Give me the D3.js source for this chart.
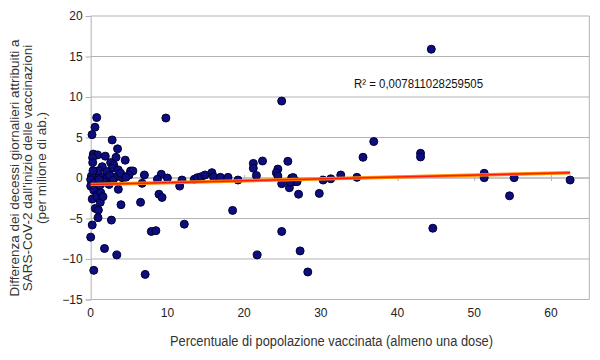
<!DOCTYPE html>
<html>
<head>
<meta charset="utf-8">
<script src="https://cdn.jsdelivr.net/npm/d3@7"></script>
<style>
  html, body { margin: 0; padding: 0; background: #fff; }
  svg { display: block; }
  text { font-family: "Liberation Sans", Arial, sans-serif; }
</style>
</head>
<body>
<svg id="chart" width="600" height="360"></svg>
<script>
// ---- Data ----
const vaccinatedPct = [
  0.78, 0.56, 0.17, 2.8, 3.5, 9.8, 0.34, 0.9, 1.9, 3.3, 4.5, 0.25, 0.26, 2.6, 3.0, 2.8, 1.5, 3.6,
  5.2, 5.5, 5.0, 2.1, 0.8, 0.1, 1.5, 2.1, 3.2, 4.1, 7.0, 6.7, 0, 0, 0.4, 0.8, 3.6, 0.2, 0.8, 1.25,
  0.6, 1.0, 0.95, 3.95, 6.5, 2.7, 0.2, 0, 1.8, 3.4, 0.4, 7.1, 7.9, 8.5, 12.2,
  0.5, 1.2, 1.8, 2.4, 1.0, 2.5, 1.3, 1.6, 0.3, 1.1, 3.9, 2.9, 4.6,
  9.2, 8.7, 10.0, 8.9, 9.3, 11.6, 11.9, 13.5, 13.9, 14.4, 14.9, 15.8, 16.0, 16.9, 17.9, 19.2, 18.5,
  21.2, 21.2, 22.4, 21.6, 24.4, 24.2, 24.4, 25.7, 24.9, 25.9, 26.2, 26.5, 26.9, 27.1, 29.8, 30.3,
  31.3, 32.6, 34.7, 35.5, 36.9, 43.0, 43.0, 44.4, 24.9, 44.6, 51.3, 51.3, 55.2, 54.6, 62.5, 24.9,
  21.7, 27.3, 28.3, 26.0, 26.4
];
const deathsDiff = [
  7.46, 6.27, 5.35, 4.7, 3.6, 7.4, 2.95, 2.85, 2.7, 2.55, 2.2, 2.5, 1.9, 1.9, 1.6, 1.2, 1.4, 1.0,
  0.87, 0.87, 0.37, 0.8, 0.37, 0.25, 0.08, -0.04, 0.08, 0.04, 0.37, -0.66, -0.2, -1.0, -1.5, -2.1, -1.4, -2.6, -2.3, -3.0,
  -3.75, -3.96, -4.9, -3.3, -3.0, -5.2, -5.8, -7.3, -8.7, -9.5, -11.4, -11.9, -6.6, -6.5, -5.7,
  -0.6, -0.9, -0.5, -0.8, 0.9, 0.3, -1.8, -2.3, 0.9, -0.2, 0.6, -0.3, 0.1,
  0.46, -0.16, 0, -2.0, -2.4, -1.0, -0.25, -0.16, 0.04, 0.16, 0.37, 0.66, 0.16, 0.08, 0.08, -0.25, -4.0,
  1.8, 1.2, 2.1, 0.3, 1.1, 0.65, 0.25, 2.06, -0.7, -1.2, 0, -0.45, -0.45, -2.0, -1.9, -0.25,
  -0.1, 0.37, 0.08, 2.56, 4.5, 3.05, 2.6, 15.9, 9.5, -6.2, 0.58, 0.04, 0.04, -2.2, -0.25, -6.6,
  -9.5, -9.0, -11.6, -0.5, 0.05
];
const trendX = [0, 62.5];
const trendY = [-0.8, 0.65];
const xTicks = [0, 10, 20, 30, 40, 50, 60];
const yTicks = [-15, -10, -5, 0, 5, 10, 15, 20];
const r2Label = "R² = 0,007811028259505";
const xTitle = "Percentuale di popolazione vaccinata (almeno una dose)";
const yTitleLines = [
  "Differenza dei decessi giornalieri attribuiti a",
  "SARS-CoV-2 dall'inizio delle vaccinazioni",
  "(per milione di ab.)"
];

// ---- Layout ----
const svg = d3.select("#chart");
const x = d3.scaleLinear().domain([0, 65]).range([90.7, 589.3]);
const y = d3.scaleLinear().domain([-15, 20]).range([299.5, 16]);
const gridColor = "#b3b3b3";

// horizontal gridlines
svg.append("g").selectAll("line").data(yTicks).join("line")
  .attr("x1", x(0)).attr("x2", x(65))
  .attr("y1", d => y(d)).attr("y2", d => y(d))
  .attr("stroke", gridColor).attr("stroke-width", 1);

// right border of plot area
svg.append("line")
  .attr("x1", x(65)).attr("x2", x(65)).attr("y1", y(20)).attr("y2", y(-15))
  .attr("stroke", gridColor).attr("stroke-width", 1);

// y axis (at x=0) with outward ticks
const yAxis = d3.axisLeft(y).tickValues(yTicks).tickSize(5).tickPadding(3)
  .tickFormat(d3.format("d"));
const gy = svg.append("g").attr("transform", `translate(${x(0)},0)`).call(yAxis);
gy.select(".domain").attr("stroke", gridColor);
gy.selectAll(".tick line").attr("stroke", gridColor);
gy.selectAll(".tick text").attr("font-size", 12).attr("fill", "#222")
  .attr("font-family", "Liberation Sans, Arial, sans-serif");

// x axis line at y=0 with crossing ticks
const xAxisLine = d3.axisBottom(x).tickValues(xTicks).tickSize(0).tickFormat("");
const gx = svg.append("g").attr("transform", `translate(0,${y(0)})`).call(xAxisLine);
gx.select(".domain").attr("stroke", gridColor).attr("d", `M${x(0)},0H${x(65)}`);
gx.selectAll(".tick").append("line").attr("y1", -3).attr("y2", 3).attr("stroke", gridColor);

// x tick labels at bottom
svg.append("g").selectAll("text").data(xTicks).join("text")
  .attr("x", d => x(d)).attr("y", 317)
  .attr("text-anchor", "middle").attr("font-size", 12).attr("fill", "#222")
  .text(d => d);

// points
svg.append("g").selectAll("circle").data(vaccinatedPct.map((v, i) => [v, deathsDiff[i]])).join("circle")
  .attr("cx", d => x(d[0])).attr("cy", d => y(d[1])).attr("r", 4)
  .attr("fill", "#0d0d80").attr("stroke", "#000030").attr("stroke-width", 1);

// trend line
const trend = trendX.map((v, i) => [v, trendY[i]]);
const lineGen = d3.line().x(d => x(d[0])).y(d => y(d[1]));
svg.append("path").datum(trend).attr("d", lineGen)
  .attr("stroke", "#ff8a00").attr("stroke-width", 3.5).attr("fill", "none");
svg.append("path").datum(trend).attr("d", lineGen)
  .attr("stroke", "#ff1a00").attr("stroke-width", 1.5).attr("fill", "none");

// R² label
svg.append("text").attr("x", 354).attr("y", 88)
  .attr("font-size", 12).attr("fill", "#111")
  .attr("textLength", 129).attr("lengthAdjust", "spacingAndGlyphs")
  .text(r2Label);

// x title
svg.append("text").attr("x", 170).attr("y", 346)
  .attr("font-size", 14).attr("fill", "#333")
  .attr("textLength", 323).attr("lengthAdjust", "spacingAndGlyphs")
  .text(xTitle);

// y title (rotated)
const yt = svg.append("text").attr("transform", "translate(0,168) rotate(-90)")
  .attr("text-anchor", "middle").attr("font-size", 13.5).attr("fill", "#333");
yTitleLines.forEach((t, i) => {
  yt.append("tspan").attr("x", 0).attr("y", 18.5 + i * 13.5).text(t);
});
</script>
</body>
</html>
